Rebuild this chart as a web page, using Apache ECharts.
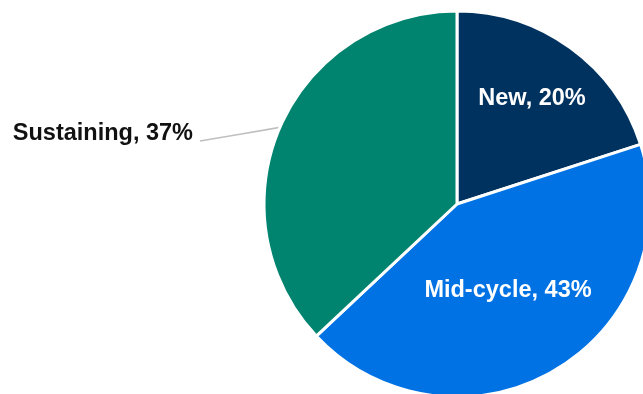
<!DOCTYPE html>
<html>
<head>
<meta charset="utf-8">
<script src="https://cdn.jsdelivr.net/npm/echarts@6/dist/echarts.min.js"></script>
<style>
  html, body { margin: 0; padding: 0; background: #ffffff; }
  #chart { width: 643px; height: 394px; }
</style>
</head>
<body>
<div id="chart"></div>
<script>
// Share of spend by lifecycle stage
const categories = ['New', 'Mid-cycle', 'Sustaining'];
const shares = [20, 43, 37];
const sliceColors = ['#00325f', '#0072e3', '#00846f'];
const labelColors = ['#ffffff', '#ffffff', '#111111'];
const labelInside = [true, true, false];

// where each slice's caption sits on the canvas
const labelSpots = [
  { x: 532, y: 99, align: 'center' },
  { x: 508, y: 291, align: 'center' },
  { x: 193, y: 134, align: 'right' }
];

const chart = echarts.init(document.getElementById('chart'), null, { renderer: 'canvas' });

const data = categories.map((name, i) => ({
  name: name,
  value: shares[i],
  itemStyle: { color: sliceColors[i] },
  label: {
    show: true,
    position: labelInside[i] ? 'inside' : 'outside',
    color: labelColors[i]
  },
  labelLine: { show: !labelInside[i] }
}));

chart.setOption({
  animation: false,
  series: [{
    type: 'pie',
    center: [457, 204],
    radius: 193,
    startAngle: 90,
    clockwise: true,
    avoidLabelOverlap: false,
    itemStyle: { borderColor: '#ffffff', borderWidth: 3 },
    label: {
      formatter: p => p.name + ', ' + p.value + '%',
      fontFamily: '"Liberation Sans", Arial, sans-serif',
      fontWeight: 'bold',
      fontSize: 23.5
    },
    labelLine: {
      lineStyle: { color: '#bfbfbf', width: 1.6 },
      length: 30,
      length2: 30
    },
    labelLayout: function (params) {
      const spot = labelSpots[params.dataIndex];
      const out = { x: spot.x, y: spot.y, align: spot.align, verticalAlign: 'middle' };
      if (params.labelLinePoints) {
        const start = params.labelLinePoints[0];
        const end = [spot.x + 7, spot.y + 7];
        out.labelLinePoints = [start, [(start[0] + end[0]) / 2, (start[1] + end[1]) / 2], end];
      }
      return out;
    },
    data: data
  }]
});
</script>
</body>
</html>
